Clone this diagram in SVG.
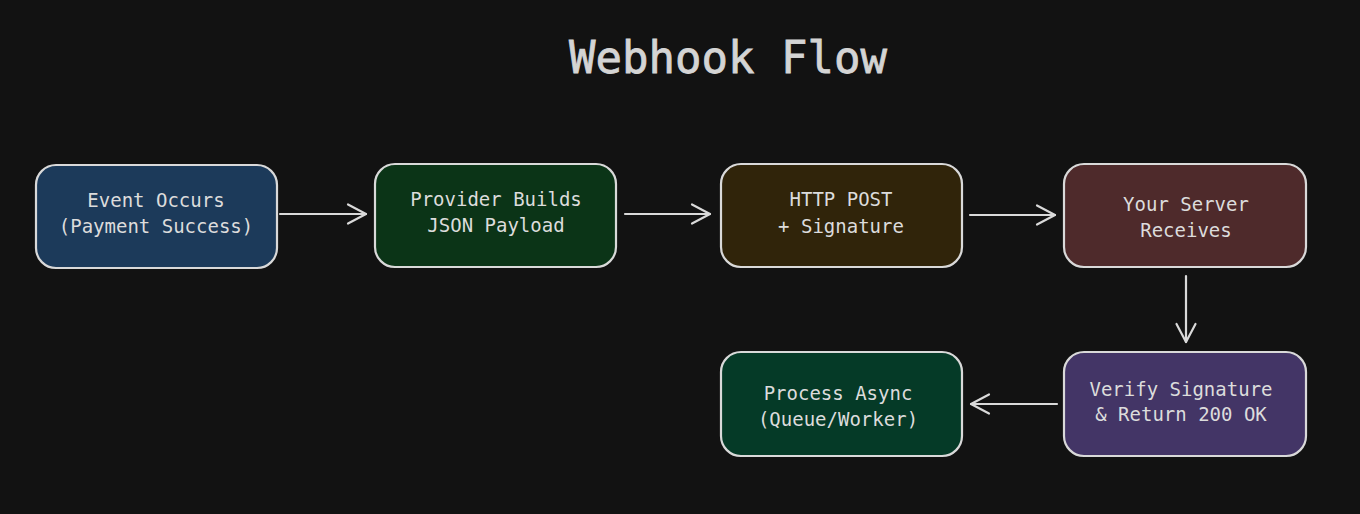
<svg xmlns="http://www.w3.org/2000/svg" width="1360" height="514" viewBox="0 0 1360 514">
<style>
.box{stroke:#d9d9d9;stroke-width:2.2}
.t{font-family:"DejaVu Sans Mono","Liberation Mono",monospace;font-size:19px;fill:#dcdcdc;text-anchor:middle}
.title{font-family:"DejaVu Sans Mono","Liberation Mono",monospace;font-size:44px;fill:#d4d4d4;stroke:#d4d4d4;stroke-width:0.8;text-anchor:middle}
.c{stroke:#d9d9d9;stroke-width:2.2;fill:none;stroke-linecap:round;stroke-linejoin:round}
</style>
<defs>
<marker id="ah" markerWidth="30" markerHeight="30" refX="20" refY="10" orient="auto" markerUnits="userSpaceOnUse" viewBox="0 0 30 20">
<path d="M2,0.5 L20,10 L2,19.5" fill="none" stroke="#d9d9d9" stroke-width="2.2" stroke-linecap="round" stroke-linejoin="round"/>
</marker>
</defs>
<rect width="1360" height="514" fill="#121212"/>
<text class="title" x="728" y="73">Webhook Flow</text>
<g id="connectors">
<line class="c" x1="280" y1="214" x2="366" y2="214" marker-end="url(#ah)"/>
<line class="c" x1="625" y1="214" x2="710" y2="214" marker-end="url(#ah)"/>
<line class="c" x1="970" y1="215" x2="1055" y2="215" marker-end="url(#ah)"/>
<line class="c" x1="1186" y1="276" x2="1186" y2="342" marker-end="url(#ah)"/>
<line class="c" x1="1057" y1="404" x2="971" y2="404" marker-end="url(#ah)"/>
</g>
<g id="n1">
<rect class="box" x="36" y="165" width="241" height="103" rx="20" fill="#1c3a5a"/>
<text class="t" x="156" y="207">Event Occurs</text>
<text class="t" x="156" y="233">(Payment Success)</text>
</g>
<g id="n2">
<rect class="box" x="375" y="164" width="241" height="103" rx="20" fill="#0b3417"/>
<text class="t" x="496" y="206">Provider Builds</text>
<text class="t" x="496" y="232">JSON Payload</text>
</g>
<g id="n3">
<rect class="box" x="721" y="164" width="241" height="103" rx="20" fill="#30240a"/>
<text class="t" x="841" y="206">HTTP POST</text>
<text class="t" x="841" y="233">+ Signature</text>
</g>
<g id="n4">
<rect class="box" x="1064" y="164" width="242" height="103" rx="20" fill="#4e2a2b"/>
<text class="t" x="1186" y="211">Your Server</text>
<text class="t" x="1186" y="237">Receives</text>
</g>
<g id="n5">
<rect class="box" x="1064" y="352" width="242" height="104" rx="20" fill="#433566"/>
<text class="t" x="1181" y="396">Verify Signature</text>
<text class="t" x="1181" y="421">&amp; Return 200 OK</text>
</g>
<g id="n6">
<rect class="box" x="721" y="352" width="241" height="104" rx="20" fill="#053a27"/>
<text class="t" x="838" y="400">Process Async</text>
<text class="t" x="838" y="426">(Queue/Worker)</text>
</g>
</svg>
